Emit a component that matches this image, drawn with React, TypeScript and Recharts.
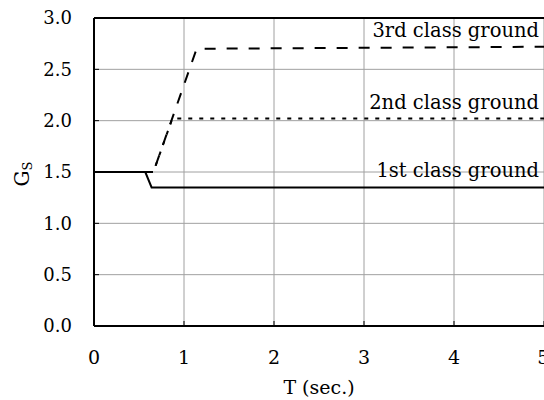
import { LineChart, Line, XAxis, YAxis, CartesianGrid, ReferenceLine, ReferenceDot } from "recharts";

// period T (sec.) and amplification factor Gs for each ground class
const class1T = [0, 0.57, 0.64, 5];
const class1Gs = [1.5, 1.5, 1.35, 1.35];

const class2T = [0, 0.66, 0.87, 5];
const class2Gs = [1.5, 1.5, 2.02, 2.02];

const class3T = [0, 0.66, 1.14, 5];
const class3Gs = [1.5, 1.5, 2.7, 2.72];

const xTicks = [0, 1, 2, 3, 4, 5];
const yTicks = [0, 0.5, 1, 1.5, 2, 2.5, 3];

const labels = ["1st class ground", "2nd class ground", "3rd class ground"];

const toRows = (ts: number[], gs: number[]) => ts.map((t, i) => ({ t, gs: gs[i] }));

const class1 = toRows(class1T, class1Gs);
const class2 = toRows(class2T, class2Gs);
const class3 = toRows(class3T, class3Gs);

const FONT = "'DejaVu Serif', serif";

// text sitting just above the right end of a curve
const endLabel = (text: string) => (props: any) => {
  const { x, y } = props.viewBox;
  return (
    <text x={x - 5} y={y - 10} textAnchor="end" fontFamily={FONT} fontSize={19.5} fill="#000">
      {text}
    </text>
  );
};

export default function App() {
  return (
    <div
      style={{
        position: "absolute",
        left: 0,
        top: 0,
        width: 544,
        height: 400,
        overflow: "hidden",
        background: "#fff",
      }}
    >
      <LineChart width={548} height={400} margin={{ top: 18, right: 4, bottom: 34, left: 0 }}>
        <CartesianGrid stroke="#a0a0a0" strokeWidth={1} />
        <XAxis
          dataKey="t"
          type="number"
          domain={[0, 5]}
          ticks={xTicks}
          allowDataOverflow
          height={40}
          axisLine={{ stroke: "#000", strokeWidth: 2 }}
          tickLine={{ stroke: "#000", strokeWidth: 1 }}
          tickSize={-5}
          tickMargin={30}
          tick={{ fill: "#000", fontFamily: FONT, fontSize: 19 }}
          label={{
            content: (props: any) => {
              const { x, y, width } = props.viewBox;
              return (
                <text x={x + width / 2} y={y + 68} textAnchor="middle" fontFamily={FONT} fontSize={19} fill="#000">
                  T  (sec.)
                </text>
              );
            },
          }}
        />
        <YAxis
          type="number"
          domain={[0, 3]}
          ticks={yTicks}
          allowDataOverflow
          width={94}
          axisLine={{ stroke: "#000", strokeWidth: 2 }}
          tickLine={{ stroke: "#000", strokeWidth: 1 }}
          tickSize={-5}
          tickMargin={27}
          tickFormatter={(v: number) => v.toFixed(1)}
          tick={{ fill: "#000", fontFamily: FONT, fontSize: 18 }}
          label={{
            content: (props: any) => {
              const { y, height } = props.viewBox;
              const cy = y + height / 2 + 2;
              return (
                <text
                  x={29}
                  y={cy}
                  transform={`rotate(-90 29 ${cy})`}
                  textAnchor="middle"
                  fontFamily={FONT}
                  fontSize={20}
                  fill="#000"
                >
                  G
                  <tspan fontSize={13} dy={3}>
                    S
                  </tspan>
                </text>
              );
            },
          }}
        />
        <ReferenceLine y={3} stroke="#000" strokeWidth={2} />
        <Line
          data={class1}
          dataKey="gs"
          type="linear"
          stroke="#000"
          strokeWidth={2}
          dot={false}
          isAnimationActive={false}
        />
        <Line
          data={class2}
          dataKey="gs"
          type="linear"
          stroke="#000"
          strokeWidth={2}
          strokeDasharray="4 7"
          dot={false}
          isAnimationActive={false}
        />
        <Line
          data={class3}
          dataKey="gs"
          type="linear"
          stroke="#000"
          strokeWidth={2}
          strokeDasharray="11 11"
          dot={false}
          isAnimationActive={false}
        />
        <ReferenceDot x={5} y={class1Gs[3]} r={0} stroke="none" label={{ content: endLabel(labels[0]) }} />
        <ReferenceDot x={5} y={class2Gs[3]} r={0} stroke="none" label={{ content: endLabel(labels[1]) }} />
        <ReferenceDot x={5} y={class3Gs[3]} r={0} stroke="none" label={{ content: endLabel(labels[2]) }} />
      </LineChart>
    </div>
  );
}
